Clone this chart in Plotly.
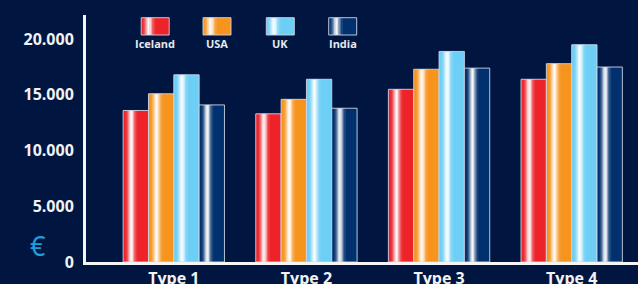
import plotly.graph_objects as go
import math

# ---- data ----
categories = ["Type 1", "Type 2", "Type 3", "Type 4"]
series_names = ["Iceland", "USA", "UK", "India"]
iceland = [13600, 13300, 15500, 16400]
usa = [15100, 14600, 17300, 17800]
uk = [16800, 16400, 18900, 19500]
india = [14100, 13800, 17400, 17500]
ytick_vals = [0, 5000, 10000, 15000, 20000]
ytick_text = ["0", "5.000", "10.000", "15.000", "20.000"]

# ---- style ----
BG = "#001641"
colors = ["#ee2229", "#f7941e", "#6dcff6", "#00306e"]
OUTLINE = "rgba(205,212,228,0.9)"
FONT = "Open Sans"


def hex_rgb(h):
    h = h.lstrip("#")
    return tuple(int(h[i:i + 2], 16) for i in (0, 2, 4))


def mix(c, w):
    r, g, b = hex_rgb(c)
    return "rgb(%d,%d,%d)" % (r + (255 - r) * w, g + (255 - g) * w, b + (255 - b) * w)


NS = 20


def whiteness(p):
    return 0.97 * math.exp(-((p - 0.33) / 0.13) ** 2)


series_vals = [iceland, usa, uk, india]
bar_w = 0.191
group_left = -2 * bar_w

fig = go.Figure()
for i, (name, vals) in enumerate(zip(series_names, series_vals)):
    off = group_left + i * bar_w
    fig.add_trace(go.Bar(x=categories, y=vals, width=bar_w, offset=off,
                         marker=dict(color=colors[i], line=dict(width=0)),
                         name=name, showlegend=False, hoverinfo="skip"))
    step = bar_w / NS
    for j in range(NS):
        p = (j + 0.5) / NS
        w = whiteness(p)
        if w < 0.03:
            continue
        fig.add_trace(go.Bar(x=categories, y=vals, width=step * 1.4,
                             offset=off + j * step - step * 0.2,
                             marker=dict(color=mix(colors[i], w), line=dict(width=0)),
                             showlegend=False, hoverinfo="skip"))
    fig.add_trace(go.Bar(x=categories, y=vals, width=bar_w, offset=off,
                         marker=dict(color="rgba(0,0,0,0)", line=dict(width=1, color=OUTLINE)),
                         showlegend=False, hoverinfo="skip"))

# ---- custom legend ----
L, T, W_PX, H_PX = 86, 15, 552, 247


def px(x):
    return (x - L) / W_PX


def py(y):
    return (T + H_PX - y) / H_PX


shapes = []
annotations = []
legend_centers = [155.2, 217.0, 280.3, 342.7]
sw_w, sw_top, sw_bot = 28, 17.7, 35
for i, name in enumerate(series_names):
    cx = legend_centers[i]
    x0 = cx - sw_w / 2
    shapes.append(dict(type="rect", xref="paper", yref="paper",
                       x0=px(x0), x1=px(x0 + sw_w), y0=py(sw_bot), y1=py(sw_top),
                       fillcolor=colors[i], line=dict(width=0), layer="above"))
    step = sw_w / NS
    for j in range(NS):
        p = (j + 0.5) / NS
        w = whiteness(p + 0.05)
        if w < 0.03:
            continue
        shapes.append(dict(type="rect", xref="paper", yref="paper",
                           x0=px(x0 + j * step - 0.2), x1=px(x0 + (j + 1) * step + 0.2),
                           y0=py(sw_bot), y1=py(sw_top),
                           fillcolor=mix(colors[i], w), line=dict(width=0), layer="above"))
    shapes.append(dict(type="rect", xref="paper", yref="paper",
                       x0=px(x0), x1=px(x0 + sw_w), y0=py(sw_bot), y1=py(sw_top),
                       fillcolor="rgba(0,0,0,0)", line=dict(width=1, color=OUTLINE), layer="above"))
    annotations.append(dict(text="<b>%s</b>" % name, xref="paper", yref="paper",
                            x=px(cx), y=py(43.5), xanchor="center", yanchor="middle",
                            showarrow=False, font=dict(family=FONT, size=11, color="#e6e8ee")))

annotations.append(dict(text="€", xref="paper", yref="paper", x=px(37.5), y=py(245),
                        xanchor="center", yanchor="middle", showarrow=False,
                        font=dict(family="Noto Sans", size=27, color="#1e9fd9")))

fig.update_layout(
    width=638, height=284,
    margin=dict(l=L, r=0, t=T, b=284 - T - H_PX, pad=0),
    paper_bgcolor=BG, plot_bgcolor=BG,
    barmode="overlay",
    showlegend=False,
    shapes=shapes, annotations=annotations,
    font=dict(family=FONT, color="#f2f2f2"),
    xaxis=dict(range=[-0.662, 3.5], showline=True, linecolor="#f4f4f4", linewidth=3,
               showgrid=False, zeroline=False, ticks="", automargin=False,
               tickfont=dict(family=FONT, size=16, color="#f2f2f2", weight="bold")),
    yaxis=dict(range=[0, 22170], showline=True, linecolor="#f4f4f4", linewidth=3,
               showgrid=False, zeroline=False, ticks="", automargin=False,
               tickvals=ytick_vals, ticktext=ytick_text, ticklabelstandoff=6,
               tickfont=dict(family=FONT, size=16, color="#f2f2f2", weight="bold")),
)

fig.write_html(
    "out.html",
    config={"displayModeBar": False, "staticPlot": True},
    post_script="document.body.style.margin='0';document.body.style.padding='0';"
                "document.body.style.overflow='hidden';"
                "document.body.style.background='" + BG + "';",
)
